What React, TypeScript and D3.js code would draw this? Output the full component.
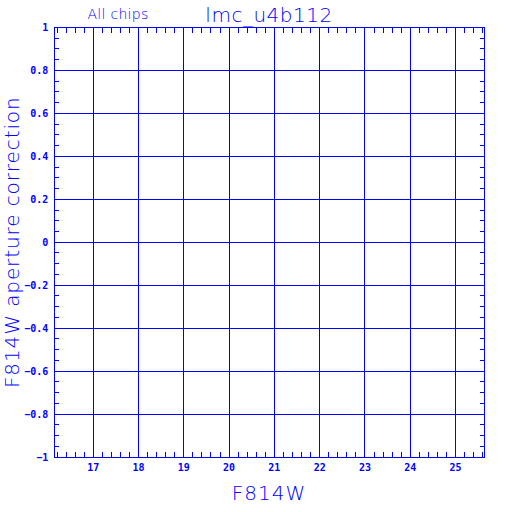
import React, { useEffect } from "react";
import * as d3 from "d3";

// axis ranges and labels
const xDomain = [16.14, 25.64];
const yDomain = [-1, 1];
const xMajor = [17, 18, 19, 20, 21, 22, 23, 24, 25];
const yMajor = [-1, -0.8, -0.6, -0.4, -0.2, 0, 0.2, 0.4, 0.6, 0.8, 1];
const title = "lmc_u4b112";
const subtitle = "All chips";
const xLabel = "F814W";
const yLabel = "F814W aperture correction";

const BLUE = "#0000ff";

const App = () => {
  useEffect(() => {
    document.body.style.margin = "0";
  }, []);

  const margin = { top: 27.5, right: 27.5, bottom: 55, left: 54.3 };
  const W = 512;
  const H = 512;

  const x = d3.scaleLinear().domain(xDomain).range([margin.left, W - margin.right]);
  const y = d3.scaleLinear().domain(yDomain).range([H - margin.bottom, margin.top]);

  // minor ticks: 0.2 on x, 0.05 on y
  const xMinor = d3.range(16.2, 25.7, 0.2).filter((v) => v <= xDomain[1]);
  const yMinor = d3.range(-1, 1.0001, 0.05);
  const tl = 5;

  const fmt = (v: number) => {
    const s = Math.abs(v) < 1e-9 ? "0" : d3.format("~g")(v);
    return s.replace("-", "\u2212");
  };

  const [x0, x1] = x.range();
  const [y0, y1] = y.range();

  return (
    <svg width={W} height={H} style={{ display: "block", background: "#fff" }}>
      <g stroke={BLUE} strokeWidth={1} shapeRendering="crispEdges">
        {xMajor.map((v) => (
          <line key={"gx" + v} x1={x(v)} x2={x(v)} y1={y1} y2={y0} />
        ))}
        {yMajor.map((v) => (
          <line key={"gy" + v} x1={x0} x2={x1} y1={y(v)} y2={y(v)} />
        ))}
        {xMinor.map((v, i) => (
          <g key={"mx" + i}>
            <line x1={x(v)} x2={x(v)} y1={y0} y2={y0 - tl} />
            <line x1={x(v)} x2={x(v)} y1={y1} y2={y1 + tl} />
          </g>
        ))}
        {yMinor.map((v, i) => (
          <g key={"my" + i}>
            <line x1={x0} x2={x0 + tl} y1={y(v)} y2={y(v)} />
            <line x1={x1} x2={x1 - tl} y1={y(v)} y2={y(v)} />
          </g>
        ))}
        <rect x={x0} y={y1} width={x1 - x0} height={y0 - y1} fill="none" />
      </g>

      <g fill={BLUE} fontFamily="'DejaVu Sans Mono', monospace" fontWeight="bold" fontSize={10}>
        {xMajor.map((v) => (
          <text key={"lx" + v} x={x(v)} y={y0 + 14} textAnchor="middle">
            {fmt(v)}
          </text>
        ))}
        {yMajor.map((v) => (
          <text key={"ly" + v} x={x0 - 6} y={y(v) + 3.5} textAnchor="end">
            {fmt(v)}
          </text>
        ))}
      </g>

      <g fill={BLUE} fontFamily="'DejaVu Sans', sans-serif" fontWeight={300}>
        <text x={269} y={22} textAnchor="middle" fontSize={20} letterSpacing={0.5}>
          {title}
        </text>
        <text x={118} y={19} textAnchor="middle" fontSize={14} letterSpacing={0.3}>
          {subtitle}
        </text>
        <text x={269} y={500} textAnchor="middle" fontSize={20} letterSpacing={1}>
          {xLabel}
        </text>
        <text
          transform={`translate(19,${(y0 + y1) / 2}) rotate(-90)`}
          textAnchor="middle"
          fontSize={20}
          letterSpacing={0.9}
        >
          {yLabel}
        </text>
      </g>
    </svg>
  );
};

export default App;
